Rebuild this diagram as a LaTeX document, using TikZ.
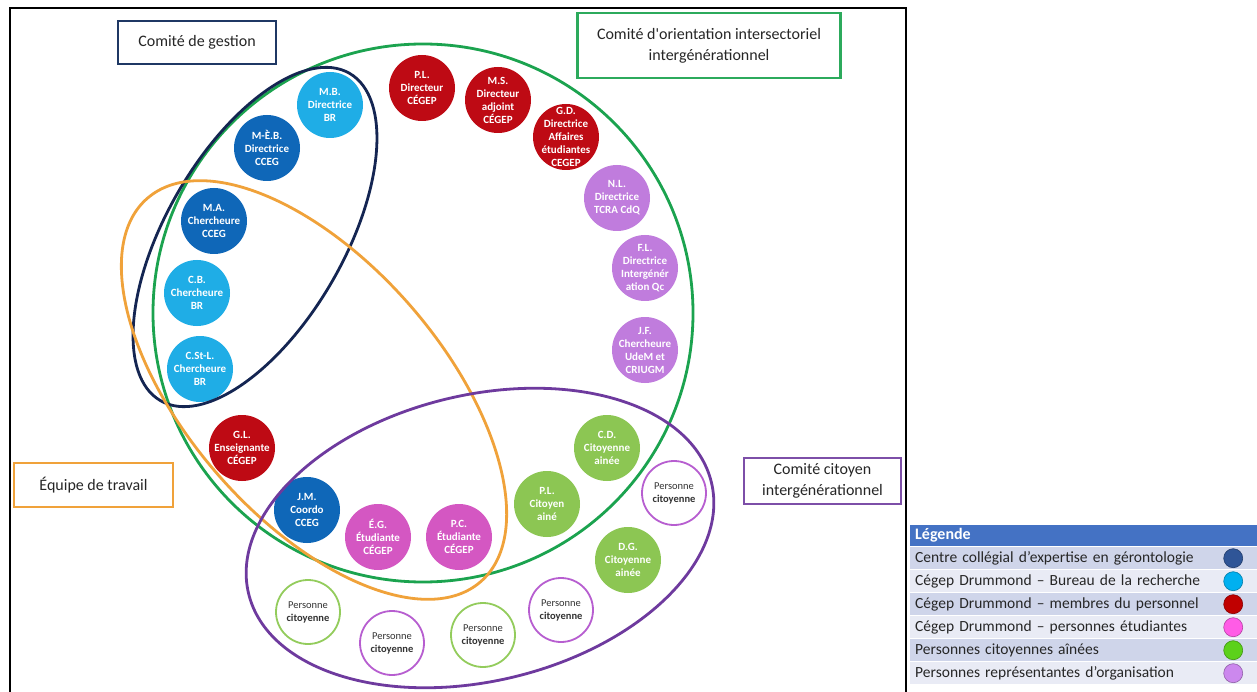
\documentclass[tikz,border=0pt]{standalone}
\usepackage{fontspec}
\setmainfont{Carlito}
\newfontfamily\droite{Carlito}
\usepackage{xcolor}

\definecolor{bleuCCEG}{HTML}{0F67B8}
\definecolor{bleuBR}{HTML}{1FADE6}
\definecolor{rougeCegep}{HTML}{BE0A14}
\definecolor{roseEtud}{HTML}{D457C2}
\definecolor{violetOrg}{HTML}{C07CDD}
\definecolor{vertAine}{HTML}{8CC653}
\definecolor{vertContour}{HTML}{93CC5C}
\definecolor{violetContour}{HTML}{B75ED0}
\definecolor{vertComite}{HTML}{1BA34F}
\definecolor{marine}{HTML}{142552}
\definecolor{orangeEquipe}{HTML}{F0A23A}
\definecolor{violetComite}{HTML}{6E3A9E}
\definecolor{cadreGestion}{HTML}{1F3864}
\definecolor{cadreOrient}{HTML}{2CAA5C}
\definecolor{cadreCitoyen}{HTML}{7D4FA8}
\definecolor{entete}{HTML}{4472C4}
\definecolor{fonce}{HTML}{CFD5EA}
\definecolor{pale}{HTML}{E9EBF5}
\definecolor{legCCEG}{HTML}{2F5597}
\definecolor{legBR}{HTML}{00B0F0}
\definecolor{legRouge}{HTML}{C00000}
\definecolor{legRose}{HTML}{FF5CE6}
\definecolor{legVert}{HTML}{5CD11A}
\definecolor{legViolet}{HTML}{CC88EE}

\begin{document}
\begin{tikzpicture}[x=1pt, y=1pt,
  membre/.style={circle, fill=#1, minimum size=66pt, inner sep=-16pt, text=white, align=center, font=\fontsize{11}{13}\selectfont\bfseries},
  personne/.style={circle, draw=#1, line width=1.8pt, fill=white, minimum size=64pt, inner sep=-14pt, align=center, text=black!80, font=\fontsize{10.5}{13}\selectfont},
  etiquette/.style={draw=#1, line width=2.2pt, fill=white, align=center, text=black!85, font=\fontsize{16}{21}\selectfont},
  comite/.style={draw=#1, line width=2.8pt},
  entetebox/.style={anchor=north west, fill=entete, text=white, minimum width=347pt, minimum height=21pt, text width=337pt, inner xsep=5pt, inner ysep=1pt, align=left, font=\fontsize{16}{18}\selectfont\bfseries},
  rangee/.style={anchor=north west, fill=#1, text=black!85, minimum height=22pt, text width=310pt, inner xsep=5pt, inner ysep=1pt, align=left, font=\fontsize{15.5}{18}\selectfont},
  casebox/.style={anchor=north west, fill=#1, minimum width=48pt, minimum height=22pt},
  pastille/.style={circle, fill=#1, draw=#1!70!black, line width=0.6pt, minimum size=19pt, inner sep=0pt}]

\fill[white] (0,0) rectangle (1257,-692);
\useasboundingbox (0,0) rectangle (1257,-692);

% cadre
\draw[line width=2pt] (10,-700) -- (10,-8) -- (906,-8) -- (906,-700);

% personnes
\node[membre=bleuBR] (mb) at (330,-105) {M.B.\\Directrice\\BR};
\node[membre=bleuCCEG] (meb) at (267,-148) {M-È.B.\\Directrice\\CCEG};
\node[membre=bleuCCEG] (ma) at (214,-221) {M.A.\\Chercheure\\CCEG};
\node[membre=bleuBR] (cb) at (197,-293) {C.B.\\Chercheure\\BR};
\node[membre=bleuBR] (csl) at (200,-369) {C.St-L.\\Chercheure\\BR};
\node[membre=rougeCegep] (gl) at (242,-448) {G.L.\\Enseignante\\CÉGEP};
\node[membre=bleuCCEG] (jm) at (307,-510) {J.M.\\Coordo\\CCEG};
\node[membre=roseEtud] (eg) at (378,-537) {É.G.\\Étudiante\\CÉGEP};
\node[membre=roseEtud] (pc) at (459,-537) {P.C.\\Étudiante\\CÉGEP};
\node[membre=rougeCegep] (pl) at (422,-88) {P.L.\\Directeur\\CÉGEP};
\node[membre=rougeCegep] (ms) at (498,-100) {M.S.\\Directeur\\adjoint\\CÉGEP};
\node[membre=rougeCegep] (gd) at (566,-137) {G.D.\\Directrice\\Affaires\\étudiantes\\CEGEP};
\node[membre=violetOrg] (nl) at (617,-198) {N.L.\\Directrice\\TCRA CdQ};
\node[membre=violetOrg] (fl) at (645,-268) {F.L.\\Directrice\\Intergénér\\ation Qc};
\node[membre=violetOrg] (jf) at (645,-350) {J.F.\\Chercheure\\UdeM et\\CRIUGM};
\node[membre=vertAine] (cd) at (607,-448) {C.D.\\Citoyenne\\ainée};
\node[membre=vertAine] (plc) at (547,-504) {P.L.\\Citoyen\\ainé};
\node[membre=vertAine] (dg) at (628,-560) {D.G.\\Citoyenne\\ainée};

\node[personne=violetContour] (p1) at (674,-493) {Personne\\\textbf{citoyenne}};
\node[personne=vertContour] (p2) at (308,-612) {Personne\\\textbf{citoyenne}};
\node[personne=violetContour] (p3) at (392,-643) {Personne\\\textbf{citoyenne}};
\node[personne=vertContour] (p4) at (483,-635) {Personne\\\textbf{citoyenne}};
\node[personne=violetContour] (p5) at (561,-610) {Personne\\\textbf{citoyenne}};

% comites
\draw[comite=vertComite] (423,-313) ellipse [x radius=270, y radius=269];
\draw[comite=marine, rotate around={60:(255,-237)}] (255,-237) ellipse [x radius=189, y radius=89];
\draw[comite=orangeEquipe, rotate around={-49:(314,-390)}] (314,-390) ellipse [x radius=254, y radius=128];
\draw[comite=violetComite, rotate around={13.5:(480,-538)}] (480,-538) ellipse [x radius=238, y radius=143];

% etiquettes
\node[etiquette=cadreGestion, minimum width=158pt, minimum height=43pt] (gestion) at (197,-42.5) {Comité de gestion};
\node[etiquette=cadreOrient, minimum width=263pt, minimum height=65pt] (orient) at (709,-45.5) {Comité d{\droite'}orientation intersectoriel\\intergénérationnel};
\node[etiquette=orangeEquipe, minimum width=159pt, minimum height=44pt] (equipe) at (93.5,-485) {Équipe de travail};
\node[etiquette=cadreCitoyen, minimum width=157pt, minimum height=46pt] (citoyen) at (822.5,-481) {Comité citoyen\\intergénérationnel};

% legende
\node[entetebox] (leg) at (910,-525) {Légende};
\node[rangee=fonce] (r1) at (910,-547) {Centre collégial d’expertise en gérontologie};
\node[casebox=fonce] (c1) at (1209,-547) {};
\node[pastille=legCCEG] (m1) at (c1) {};
\node[rangee=pale] (r2) at (910,-570) {Cégep Drummond – Bureau de la recherche};
\node[casebox=pale] (c2) at (1209,-570) {};
\node[pastille=legBR] (m2) at (c2) {};
\node[rangee=fonce] (r3) at (910,-593) {Cégep Drummond – membres du personnel};
\node[casebox=fonce] (c3) at (1209,-593) {};
\node[pastille=legRouge] (m3) at (c3) {};
\node[rangee=pale] (r4) at (910,-616) {Cégep Drummond – personnes étudiantes};
\node[casebox=pale] (c4) at (1209,-616) {};
\node[pastille=legRose] (m4) at (c4) {};
\node[rangee=fonce] (r5) at (910,-639) {Personnes citoyennes aînées};
\node[casebox=fonce] (c5) at (1209,-639) {};
\node[pastille=legVert] (m5) at (c5) {};
\node[rangee=pale] (r6) at (910,-662) {Personnes représentantes d’organisation};
\node[casebox=pale] (c6) at (1209,-662) {};
\node[pastille=legViolet] (m6) at (c6) {};

\end{tikzpicture}
\end{document}
